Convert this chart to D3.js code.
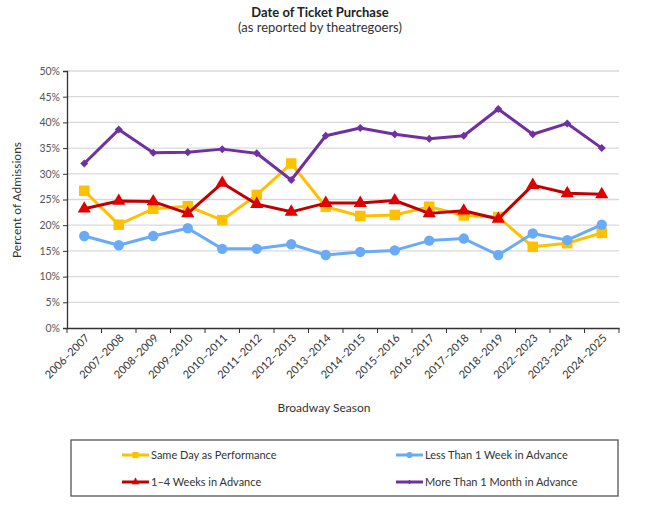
<!DOCTYPE html>
<html>
<head>
<meta charset="utf-8">
<script src="https://cdn.jsdelivr.net/npm/d3@7"></script>
<style>
  body { margin: 0; background: #fff; }
  text { font-family: Lato, "Open Sans", sans-serif; }
</style>
</head>
<body>
<div id="chart"></div>
<script>
// seasons + series (percent of admissions)
const seasons = ["2006–2007","2007–2008","2008–2009","2009–2010","2010–2011","2011–2012","2012–2013","2013–2014",
    "2014–2015","2015–2016","2016–2017","2017–2018","2018–2019","2022–2023","2023–2024","2024–2025"];
const sameDay   = [26.7, 20.1, 23.2, 23.7, 21.0, 25.9, 32.0, 23.6, 21.8, 22.0, 23.6, 21.9, 21.6, 15.8, 16.5, 18.5];
const lessWeek  = [17.9, 16.1, 17.9, 19.4, 15.4, 15.4, 16.3, 14.2, 14.8, 15.1, 17.0, 17.4, 14.2, 18.4, 17.1, 20.1];
const oneToFour = [23.2, 24.7, 24.6, 22.3, 28.2, 24.1, 22.6, 24.3, 24.3, 24.8, 22.3, 22.8, 21.2, 27.8, 26.2, 26.0];
const moreMonth = [32.0, 38.6, 34.1, 34.2, 34.8, 34.0, 28.8, 37.4, 38.9, 37.7, 36.8, 37.4, 42.6, 37.7, 39.8, 35.0];
const yTicks = [0, 5, 10, 15, 20, 25, 30, 35, 40, 45, 50];

// rot: marker rotation (diamond = square turned 45deg)
const series = [
    {name: "Same Day as Performance",      values: sameDay,   line: "#FFC000", fill: "#FFC000", shape: d3.symbolSquare,   size: 110, rot: 0},
    {name: "Less Than 1 Week in Advance",  values: lessWeek,  line: "#6AABF7", fill: "#6AABF7", shape: d3.symbolCircle,   size: 85,  rot: 0},
    {name: "1–4 Weeks in Advance",         values: oneToFour, line: "#C00000", fill: "#E00000", shape: d3.symbolTriangle, size: 75,  rot: 0},
    {name: "More Than 1 Month in Advance", values: moreMonth, line: "#7030A0", fill: "#7030A0", shape: d3.symbolSquare,   size: 32,  rot: 45}
];

const width = 658, height = 518;
const margin = {top: 71, left: 67, right: 39, bottom: 190};

const svg = d3.select("#chart").append("svg")
    .attr("width", width)
    .attr("height", height);

/* SCALES */
const xScale = d3.scaleBand()
    .domain(seasons)
    .range([margin.left, width - margin.right]);

const yScale = d3.scaleLinear()
    .domain([0, 50])
    .range([height - margin.bottom, margin.top]);

const xPos = function(i) { return xScale(seasons[i]) + xScale.bandwidth() / 2; };

/* GRID */
svg.append("g")
    .selectAll("line")
    .data(yTicks.filter(d => d > 0))
    .enter().append("line")
    .attr("x1", margin.left)
    .attr("x2", width - margin.right)
    .attr("y1", d => yScale(d))
    .attr("y2", d => yScale(d))
    .attr("stroke", "#d9d9d9")
    .attr("stroke-width", 1.3);

/* AXES */
const yAxis = svg.append("g")
    .attr("transform", `translate(${margin.left},0)`)
    .call(d3.axisLeft(yScale).tickValues(yTicks).tickSize(4).tickFormat(d => d + "%"));
yAxis.select(".domain").attr("stroke", "#333").attr("stroke-width", 1.3);
yAxis.selectAll(".tick line").attr("stroke", "#333");
yAxis.selectAll(".tick text")
    .attr("x", -7)
    .attr("fill", "#555")
    .style("font-size", "10.5px");

const xAxis = svg.append("g")
    .attr("transform", `translate(0,${height - margin.bottom})`)
    .call(d3.axisBottom(xScale).tickSize(0).tickSizeOuter(0));
xAxis.select(".domain").attr("stroke", "#333").attr("stroke-width", 1.3);
xAxis.selectAll(".tick text")
    .attr("transform", "translate(3,8) rotate(-45)")
    .attr("dy", "0.35em")
    .attr("y", 0)
    .attr("x", 0)
    .attr("text-anchor", "end")
    .attr("fill", "#333")
    .style("font-size", "11px");

// tick marks between seasons
svg.append("g")
    .selectAll("line")
    .data(d3.range(seasons.length + 1))
    .enter().append("line")
    .attr("x1", i => margin.left + i * xScale.bandwidth())
    .attr("x2", i => margin.left + i * xScale.bandwidth())
    .attr("y1", height - margin.bottom)
    .attr("y2", height - margin.bottom + 5)
    .attr("stroke", "#333");

/* LINES + MARKERS */
const line = d3.line()
    .x((d, i) => xPos(i))
    .y(d => yScale(d));

series.forEach(function(s) {
    svg.append("path")
        .datum(s.values)
        .attr("d", line)
        .attr("fill", "none")
        .attr("stroke", s.line)
        .attr("stroke-width", 3)
        .attr("stroke-linejoin", "round");

    svg.append("g")
        .selectAll("path")
        .data(s.values)
        .enter().append("path")
        .attr("d", d3.symbol().type(s.shape).size(s.size))
        .attr("transform", (d, i) => `translate(${xPos(i)},${yScale(d)}) rotate(${s.rot})`)
        .attr("fill", s.fill);
});

/* TITLES */
svg.append("text")
    .attr("x", 320).attr("y", 17)
    .attr("text-anchor", "middle")
    .attr("font-weight", "bold")
    .attr("fill", "#222")
    .style("font-size", "13px")
    .text("Date of Ticket Purchase");

svg.append("text")
    .attr("x", 320).attr("y", 32)
    .attr("text-anchor", "middle")
    .attr("fill", "#333")
    .style("font-size", "13px")
    .text("(as reported by theatregoers)");

svg.append("text")
    .attr("x", 324).attr("y", 412)
    .attr("text-anchor", "middle")
    .attr("fill", "#333")
    .style("font-size", "12px")
    .text("Broadway Season");

svg.append("text")
    .attr("transform", "rotate(-90)")
    .attr("x", -200).attr("y", 21)
    .attr("text-anchor", "middle")
    .attr("fill", "#333")
    .style("font-size", "12px")
    .text("Percent of Admissions");

/* LEGEND */
svg.append("rect")
    .attr("x", 71).attr("y", 440)
    .attr("width", 547).attr("height", 56)
    .attr("fill", "none")
    .attr("stroke", "#555")
    .attr("stroke-width", 1.3);

const legendPos = [[122, 455], [396, 455], [122, 482], [396, 482]];

series.forEach(function(s, i) {
    const [lx, ly] = legendPos[i];
    svg.append("line")
        .attr("x1", lx).attr("x2", lx + 27)
        .attr("y1", ly).attr("y2", ly)
        .attr("stroke", s.line)
        .attr("stroke-width", 3);
    svg.append("path")
        .attr("d", d3.symbol().type(s.shape).size(s.size * 0.35))
        .attr("transform", `translate(${lx + 13.5},${ly}) rotate(${s.rot})`)
        .attr("fill", s.fill);
    svg.append("text")
        .attr("x", lx + 29).attr("y", ly)
        .attr("dy", "0.35em")
        .attr("fill", "#333")
        .style("font-size", "11px")
        .text(s.name);
});
</script>
</body>
</html>
